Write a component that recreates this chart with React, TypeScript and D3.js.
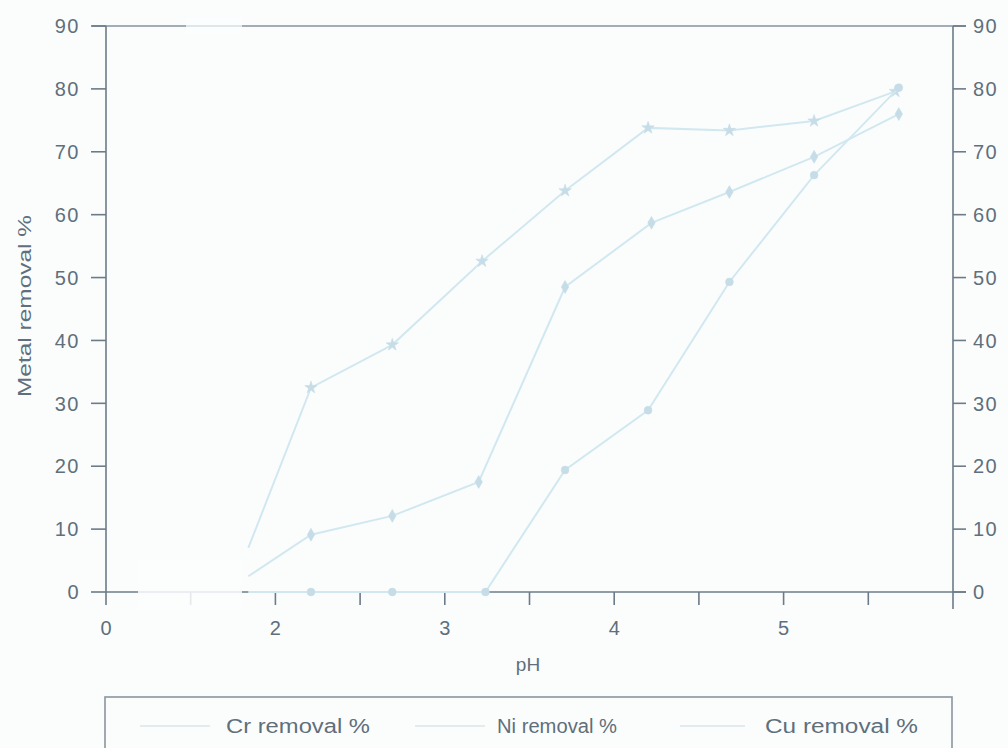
import React from "react";
import * as d3 from "d3";

const W = 1008;
const H = 748;

const seriesNames = ["Cr removal %", "Ni removal %", "Cu removal %"];
const crPH = [1.84, 2.21, 2.69, 3.22, 3.71, 4.2, 4.68, 5.18, 5.66];
const crVal = [7, 32.5, 39.3, 52.6, 63.8, 73.8, 73.4, 74.9, 79.6];
const niPH = [1.84, 2.21, 2.69, 3.2, 3.71, 4.22, 4.68, 5.18, 5.68];
const niVal = [2.5, 9.1, 12.1, 17.5, 48.5, 58.7, 63.6, 69.2, 76];
const cuPH = [1.84, 2.21, 2.69, 3.24, 3.71, 4.2, 4.68, 5.18, 5.68];
const cuVal = [0, 0, 0, 0, 19.4, 28.9, 49.3, 66.3, 80.2];

const xTicks = [1, 1.5, 2, 2.5, 3, 3.5, 4, 4.5, 5, 5.5, 6];
const xTickLabels = [
  { v: 1, label: "0" },
  { v: 2, label: "2" },
  { v: 3, label: "3" },
  { v: 4, label: "4" },
  { v: 5, label: "5" },
];
const yTicks = [0, 10, 20, 30, 40, 50, 60, 70, 80, 90];

export default function App() {
  const x = d3.scaleLinear().domain([1, 6]).range([106, 953]);
  const y = d3.scaleLinear().domain([0, 90]).range([592, 26]);
  const line = d3
    .line<[number, number]>()
    .x((d) => x(d[0]))
    .y((d) => y(d[1]));

  const series = [
    { name: seriesNames[0], pts: crPH.map((p, i) => [p, crVal[i]] as [number, number]), sym: d3.symbolStar },
    { name: seriesNames[1], pts: niPH.map((p, i) => [p, niVal[i]] as [number, number]), sym: d3.symbolDiamond },
    { name: seriesNames[2], pts: cuPH.map((p, i) => [p, cuVal[i]] as [number, number]), sym: d3.symbolCircle },
  ];

  const axisCol = "#6c7b88";
  const textCol = "#5f6f7c";
  const lineCol = "#d2e8f0";
  const markCol = "#c6dde8";
  const font = "'Liberation Sans', Arial, sans-serif";

  const x0 = x(1);
  const x1 = x(6);
  const yb = y(0);
  const yt = y(90);

  const legendItems = [
    { name: seriesNames[0], lx0: 140, lx1: 210, tx: 226, tw: 144 },
    { name: seriesNames[1], lx0: 415, lx1: 485, tx: 497, tw: 120 },
    { name: seriesNames[2], lx0: 680, lx1: 745, tx: 765, tw: 153 },
  ];

  return (
    <svg
      width={W}
      height={H}
      style={{ position: "absolute", left: 0, top: 0, background: "#fbfdfd" }}
    >
      <rect x={0} y={0} width={W} height={H} fill="#fbfdfd" />

      {/* top border */}
      <line x1={x0 - 14} x2={x1 + 13} y1={yt} y2={yt} stroke="#86929c" strokeWidth={1.6} />
      {/* left axis */}
      <line x1={x0} x2={x0} y1={yt} y2={yb + 13} stroke={axisCol} strokeWidth={1.6} />
      {/* right axis */}
      <line x1={x1} x2={x1} y1={yt} y2={yb + 17} stroke={axisCol} strokeWidth={1.6} />
      {/* bottom axis */}
      <line x1={x0} x2={x1 + 13} y1={yb} y2={yb} stroke={axisCol} strokeWidth={1.6} />

      {/* y ticks */}
      {yTicks.map((t) => (
        <g key={"y" + t}>
          <line x1={x0 - 15} x2={x0} y1={y(t)} y2={y(t)} stroke={axisCol} strokeWidth={1.6} />
          <line x1={x1} x2={x1 + 13} y1={y(t)} y2={y(t)} stroke={axisCol} strokeWidth={1.6} />
          <text
            x={80}
            y={y(t)}
            dy="0.36em"
            textAnchor="end"
            fontFamily={font}
            fontSize={20}
            fill={textCol}
            letterSpacing={1.5}
          >
            {t}
          </text>
          <text
            x={973}
            y={y(t)}
            dy="0.36em"
            textAnchor="start"
            fontFamily={font}
            fontSize={20}
            fill={textCol}
            letterSpacing={1.5}
          >
            {t}
          </text>
        </g>
      ))}

      {/* x ticks */}
      {xTicks.slice(1, -1).map((t) => (
        <line key={"x" + t} x1={x(t)} x2={x(t)} y1={yb} y2={yb + 13} stroke={axisCol} strokeWidth={1.6} />
      ))}
      {xTickLabels.map((t) => (
        <text
          key={"xl" + t.v}
          x={x(t.v)}
          y={yb + 43}
          textAnchor="middle"
          fontFamily={font}
          fontSize={20}
          fill={textCol}
        >
          {t.label}
        </text>
      ))}

      {/* erased patch near origin */}
      <rect x={138} y={560} width={104} height={50} fill="#fbfdfd" opacity={0.85} />
      <rect x={186} y={18} width={56} height={16} fill="#fbfdfd" opacity={0.7} />

      {/* series */}
      {series.map((s) => (
        <g key={s.name}>
          <path d={line(s.pts) || ""} fill="none" stroke={lineCol} strokeWidth={2} />
          {s.pts.slice(1).map((p, i) => (
            <path
              key={i}
              transform={`translate(${x(p[0])},${y(p[1])})`}
              d={d3.symbol().type(s.sym).size(48)() || ""}
              fill={markCol}
              stroke={markCol}
              strokeWidth={0.6}
            />
          ))}
        </g>
      ))}

      {/* axis titles */}
      <text
        x={528}
        y={671}
        textAnchor="middle"
        fontFamily={font}
        fontSize={19}
        fill={textCol}
      >
        pH
      </text>
      <text
        transform="translate(31,306) rotate(-90)"
        textAnchor="middle"
        fontFamily={font}
        fontSize={19}
        fill={textCol}
        textLength={182}
        lengthAdjust="spacingAndGlyphs"
      >
        Metal removal %
      </text>

      {/* legend */}
      <rect x={105} y={697} width={847} height={70} fill="#fbfdfd" stroke="#8b959d" strokeWidth={1.6} />
      {legendItems.map((l) => (
        <g key={l.name}>
          <line x1={l.lx0} x2={l.lx1} y1={726} y2={726} stroke="#e3ebee" strokeWidth={2} />
          <text
            x={l.tx}
            y={733}
            fontFamily={font}
            fontSize={20}
            fill={textCol}
            textLength={l.tw}
            lengthAdjust="spacingAndGlyphs"
          >
            {l.name}
          </text>
        </g>
      ))}
    </svg>
  );
}
